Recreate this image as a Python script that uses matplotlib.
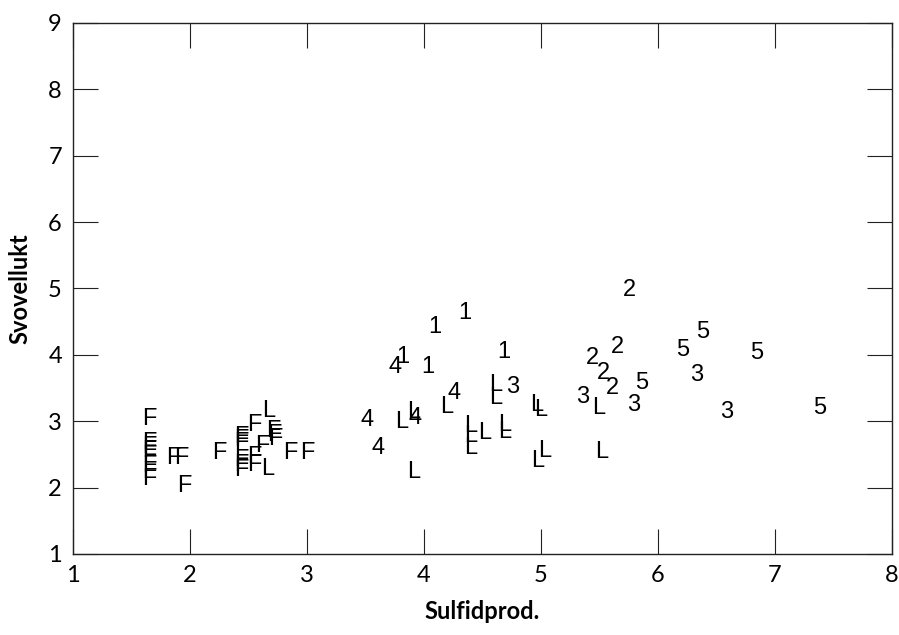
import matplotlib
matplotlib.use('Agg')
from matplotlib import pyplot as plt

# group label for each observation, with sulfide production (x) and sulphur odour (y)
labels = ['F'] * 27 + ['4'] * 5 + ['1'] * 5 + ['L'] * 20 + ['2'] * 5 + ['3'] * 5 + ['5'] * 5

sulfid = [
    # F
    1.65, 1.65, 1.65, 1.65, 1.65, 1.65, 1.65, 1.65, 1.86, 1.93, 1.95,
    2.25, 2.55, 2.71, 2.72, 2.73, 2.44, 2.44, 2.44, 2.44, 2.44, 2.44,
    2.55, 2.55, 2.62, 2.86, 3.00,
    # 4
    3.75, 4.26, 3.51, 3.92, 3.61,
    # 1
    4.35, 4.09, 3.82, 4.03, 4.68,
    # L
    4.19, 4.61, 4.61, 4.96, 5.00, 3.81, 3.91, 3.91, 4.40, 4.40, 4.40,
    4.52, 4.69, 4.69, 4.97, 5.03, 5.49, 5.52, 2.67, 2.66,
    # 2
    5.76, 5.65, 5.44, 5.53, 5.61,
    # 3
    4.76, 5.36, 5.79, 6.33, 6.59,
    # 5
    5.86, 6.21, 6.38, 6.84, 7.38,
]

svovel = [
    # F
    3.04, 2.67, 2.61, 2.55, 2.48, 2.33, 2.24, 2.13, 2.45, 2.45, 2.02,
    2.52, 2.94, 2.85, 2.79, 2.73, 2.76, 2.71, 2.67, 2.42, 2.34, 2.27,
    2.46, 2.34, 2.62, 2.52, 2.52,
    # 4
    3.82, 3.43, 3.02, 3.05, 2.60,
    # 1
    4.63, 4.42, 3.97, 3.82, 4.04,
    # L
    3.21, 3.55, 3.35, 3.25, 3.17, 2.99, 3.14, 2.24, 2.93, 2.78, 2.60,
    2.82, 2.94, 2.84, 2.40, 2.55, 3.20, 2.54, 3.15, 2.28,
    # 2
    4.98, 4.12, 3.95, 3.73, 3.50,
    # 3
    3.52, 3.37, 3.25, 3.70, 3.14,
    # 5
    3.58, 4.07, 4.34, 4.03, 3.20,
]

xticks = [1, 2, 3, 4, 5, 6, 7, 8]
yticks = [1, 2, 3, 4, 5, 6, 7, 8, 9]

fig = plt.figure(figsize=(8.99, 6.35), dpi=100)
ax = fig.add_axes([0.0812, 0.1276, 0.9110, 0.8362])

for lab, x, y in zip(labels, sulfid, svovel):
    ax.text(x, y, lab, ha='center', va='center', fontsize=17,
            family='Liberation Sans', color='black')

ax.set_xlim(1, 8)
ax.set_ylim(1, 9)
ax.set_xticks(xticks)
ax.set_yticks(yticks)
ax.tick_params(direction='in', length=18, width=0.8, top=True, right=True,
               labelsize=17, pad=8, colors='#222222', labelcolor='black')
for lab in ax.get_xticklabels() + ax.get_yticklabels():
    lab.set_family('Lato')
for s in ax.spines.values():
    s.set_linewidth(1.0)
    s.set_color('#222222')

ax.set_xlabel('Sulfidprod.', fontsize=17, fontweight='bold', family='Lato', labelpad=10)
ax.set_ylabel('Svovellukt', fontsize=17, fontweight='bold', family='Lato', labelpad=12)

fig.savefig('out.png', dpi=100)
